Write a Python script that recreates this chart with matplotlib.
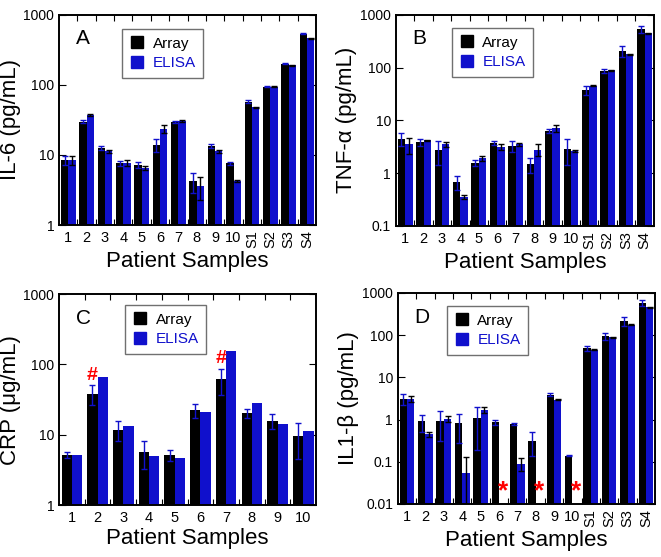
import numpy as np
import matplotlib
matplotlib.use("Agg")
import matplotlib.pyplot as plt
from matplotlib.lines import Line2D
from matplotlib.ticker import FixedLocator, NullLocator

plt.rcParams['font.family'] = ['Liberation Sans', 'DejaVu Sans']

nan = np.nan
labels14 = ['1', '2', '3', '4', '5', '6', '7', '8', '9', '10', 'S1', 'S2', 'S3', 'S4']
labels10 = ['1', '2', '3', '4', '5', '6', '7', '8', '9', '10']

# Panel A: IL-6 (pg/mL)
array_A = [8.5, 29.9, 12.7, 7.6, 7.2, 13.9, 29.3, 4.2, 13.4, 7.6, 57.8, 94.6, 200, 535]
array_A_err = [1.3, 1.5, 0.8, 0.7, 0.6, 3.0, 1.0, 1.3, 0.8, 0.3, 2.0, 2, 5, 10]
elisa_A = [8.5, 37.3, 11.2, 7.7, 6.5, 23.3, 30.6, 3.6, 11.2, 4.3, 48, 94.6, 189, 464]
elisa_A_err = [1.3, 1.5, 0.7, 0.8, 0.5, 3.0, 1.0, 1.3, 0.6, 0.15, 1.0, 2, 4, 8]

# Panel B: TNF-alpha (pg/mL)
array_B = [4.5, 3.9, 2.7, 0.69, 1.57, 3.76, 3.3, 1.46, 6.3, 2.9, 37.3, 86.6, 207, 535]
array_B_err = [1.3, 0.6, 1.3, 0.2, 0.2, 0.3, 0.8, 0.45, 0.6, 1.5, 7, 8, 47, 80]
elisa_B = [3.5, 4.2, 3.5, 0.36, 1.9, 3.15, 3.5, 2.8, 7.2, 2.6, 45, 89, 179, 445]
elisa_B_err = [1.2, 0.1, 0.35, 0.03, 0.2, 0.35, 0.3, 0.7, 1.1, 0.1, 1, 2, 4, 5]

# Panel C: CRP (ug/mL)
array_C = [5.2, 38.5, 11.9, 5.7, 5.2, 22.4, 62.2, 20.5, 15.9, 9.7]
array_C_err = [0.5, 12, 3.7, 2.4, 1.0, 4.8, 25, 3.1, 3.7, 5.2]
elisa_C = [5.2, 65.8, 13.3, 5.07, 4.65, 21.4, 154, 28.1, 14.3, 11.5]
elisa_C_err = [0, 0, 0, 0, 0, 0, 0, 0, 0, 0]
hash_C = [False, True, False, False, False, False, True, False, False, False]

# Panel D: IL1-beta (pg/mL)
array_D = [3.08, 0.91, 0.94, 0.83, 1.09, 0.86, 0.79, 0.316, 3.89, 0.14, 49.7, 97, 213, 579]
array_D_err = [0.9, 0.4, 0.63, 0.55, 0.9, 0.12, 0.03, 0.18, 0.3, 0.005, 7, 18, 52, 100]
elisa_D = [3.08, 0.456, 1.03, 0.054, 1.72, nan, 0.09, nan, 2.96, nan, 45.4, 89, 177, 457]
elisa_D_err = [0.5, 0.06, 0.17, 0.076, 0.25, 0, 0.03, 0, 0.1, 0, 1, 2, 3, 5]

BLUE = '#1010CC'
BLACK = '#000000'

fig = plt.figure(figsize=(6.61, 5.57), dpi=100)

panels = [
    dict(pos=[0.0893, 0.596, 0.389, 0.3776], letter='A', ylabel='IL-6 (pg/mL)',
         arr=array_A, arr_err=array_A_err, eli=elisa_A, eli_err=elisa_A_err,
         labels=labels14, ylim=(1, 1000), leg=(0.245, 0.932)),
    dict(pos=[0.599, 0.5943, 0.390, 0.3793], letter='B', ylabel='TNF-α (pg/mL)',
         arr=array_B, arr_err=array_B_err, eli=elisa_B, eli_err=elisa_B_err,
         labels=labels14, ylim=(0.1, 1000), leg=(0.217, 0.937)),
    dict(pos=[0.0893, 0.0928, 0.389, 0.3793], letter='C', ylabel='CRP (μg/mL)',
         arr=array_C, arr_err=array_C_err, eli=elisa_C, eli_err=elisa_C_err,
         labels=labels10, ylim=(1, 1000), leg=(0.257, 0.948)),
    dict(pos=[0.602, 0.0952, 0.389, 0.3788], letter='D', ylabel='IL1-β (pg/mL)',
         arr=array_D, arr_err=array_D_err, eli=elisa_D, eli_err=elisa_D_err,
         labels=labels14, ylim=(0.01, 1000), leg=(0.19, 0.938)),
]

for p in panels:
    ax = fig.add_axes(p['pos'])
    ax.set_yscale('log')
    n = len(p['labels'])
    x = np.arange(n)
    w = 0.4
    arr = np.array(p['arr'], dtype=float)
    eli = np.array(p['eli'], dtype=float)
    bottom = p['ylim'][0]
    ax.bar(x - w / 2, arr - bottom, bottom=bottom, width=w, color=BLACK, zorder=2)
    ax.bar(x + w / 2, eli - bottom, bottom=bottom, width=w, color=BLUE, zorder=2)
    ae = np.array(p['arr_err'], dtype=float)
    ee = np.array(p['eli_err'], dtype=float)
    ax.errorbar(x - w / 2, arr, yerr=ae, fmt='none', ecolor=BLUE, elinewidth=1.0,
                capsize=2.5, capthick=1.0, zorder=3)
    mask = (~np.isnan(eli)) & (ee > 0)
    ax.errorbar((x + w / 2)[mask], eli[mask], yerr=ee[mask], fmt='none', ecolor=BLACK,
                elinewidth=1.0, capsize=2.5, capthick=1.0, zorder=3)

    ax.set_xlim(-0.5, n - 0.5)
    ax.set_ylim(*p['ylim'])

    # ticks
    ax.xaxis.set_major_locator(FixedLocator(x))
    ax.set_xticklabels(p['labels'])
    for lab in ax.get_xticklabels():
        if lab.get_text().startswith('S'):
            lab.set_rotation(90)
    ax.xaxis.set_minor_locator(FixedLocator(np.arange(n - 1) + 0.5))
    ax.tick_params(axis='x', which='major', length=0, labelsize=10.5, pad=4)
    ax.tick_params(axis='x', which='minor', direction='in', length=4, width=0.8,
                   top=True, bottom=True)
    lo, hi = p['ylim']
    decades = [10.0 ** k for k in range(int(round(np.log10(lo))), int(round(np.log10(hi))) + 1)]
    ax.yaxis.set_major_locator(FixedLocator(decades))
    ax.set_yticklabels(['%g' % d for d in decades])
    ax.yaxis.set_minor_locator(NullLocator())
    ax.tick_params(axis='y', which='major', direction='in', length=5, width=0.8,
                   left=True, right=True, labelsize=10)
    for s in ax.spines.values():
        s.set_linewidth(1.4)

    ax.set_xlabel('Patient Samples', fontsize=16, labelpad=2)
    ax.set_ylabel(p['ylabel'], fontsize=16, labelpad=2)

    ax.text(0.065, 0.93, p['letter'], transform=ax.transAxes, fontsize=15,
            ha='left', va='top')

    handles = [Line2D([], [], marker='s', color=BLACK, linestyle='none', markersize=8),
               Line2D([], [], marker='s', color=BLUE, linestyle='none', markersize=8)]
    leg = ax.legend(handles, ['Array', 'ELISA'], loc='upper left',
                    bbox_to_anchor=p['leg'], fontsize=11, frameon=True, fancybox=False,
                    edgecolor='#707070', framealpha=1, borderpad=0.5, labelspacing=0.35,
                    handletextpad=0.5, handlelength=1.0, borderaxespad=0)
    leg.get_frame().set_linewidth(1.0)
    leg.get_texts()[1].set_color(BLUE)

    if p['letter'] == 'C':
        for i, flag in enumerate(hash_C):
            if flag:
                ax.text(i - w / 2, (arr[i] + ae[i]) * 1.4, '#', color='red',
                        fontsize=14, fontweight='bold', ha='center', va='center', zorder=4)
    if p['letter'] == 'D':
        for i in range(n):
            if np.isnan(eli[i]):
                ax.text(i + w / 2, 0.005, '*', color='red', fontsize=19, fontweight='bold',
                        ha='center', va='bottom', transform=ax.get_xaxis_transform(),
                        zorder=4)

fig.savefig('out.png', dpi=100)
